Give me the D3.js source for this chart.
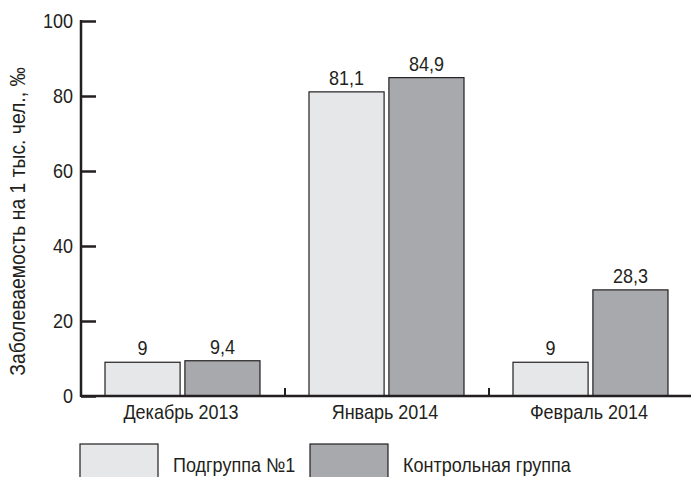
<!DOCTYPE html>
<html>
<head>
<meta charset="utf-8">
<script src="https://cdn.jsdelivr.net/npm/d3@7/dist/d3.min.js"></script>
<style>
  html, body { margin: 0; padding: 0; background: #fff; }
  svg { display: block; font-family: "Liberation Sans", Arial, sans-serif; }
</style>
</head>
<body>
<svg id="chart" width="691" height="477"></svg>
<script>
// Incidence per 1000 people, by month and group
const categories = ["Декабрь 2013", "Январь 2014", "Февраль 2014"];
const seriesNames = ["Подгруппа №1", "Контрольная группа"];
const subgroupValues = [9, 81.1, 9];
const controlValues = [9.4, 84.9, 28.3];
const valueLabels = [["9", "81,1", "9"], ["9,4", "84,9", "28,3"]];
const yTicks = [0, 20, 40, 60, 80, 100];
const yLabel = "Заболеваемость на 1 тыс. чел., ‰";

const colors = ["#e6e7e9", "#a8a9ad"];
const ink = "#231f20";
const fs = 20;
const narrow = 0.9; // condensed typeface look

const svg = d3.select("#chart");
const plotLeft = 81, plotRight = 693, plotTop = 21, plotBottom = 396;

const x = d3.scaleBand().domain(categories).range([plotLeft, plotRight]).paddingInner(0).paddingOuter(0);
const xs = d3.scaleBand().domain([0, 1]).range([24, 24 + 155]).paddingInner(0.06);
const y = d3.scaleLinear().domain([0, 100]).range([plotBottom, plotTop]);

const series = [subgroupValues, controlValues];

// places condensed text at (tx, ty)
function label(parent, tx, ty, str, anchor, size, rotate) {
  return parent.append("text")
    .attr("transform", `translate(${tx},${ty})${rotate ? " rotate(" + rotate + ")" : ""} scale(${narrow},1)`)
    .attr("text-anchor", anchor)
    .attr("font-size", size)
    .attr("fill", ink)
    .text(str);
}

// bars
series.forEach((vals, si) => {
  const g = svg.append("g");
  g.selectAll("rect").data(categories).join("rect")
    .attr("x", c => x(c) + xs(si))
    .attr("y", (c, i) => y(vals[i]))
    .attr("width", xs.bandwidth())
    .attr("height", (c, i) => y(0) - y(vals[i]))
    .attr("fill", colors[si])
    .attr("stroke", ink)
    .attr("stroke-width", 1.2);
  categories.forEach((c, i) => {
    label(g, x(c) + xs(si) + xs.bandwidth() / 2, y(vals[i]) - 7, valueLabels[si][i], "middle", fs);
  });
});

// y axis with inward ticks
const yAxis = svg.append("g").attr("transform", `translate(${plotLeft},0)`)
  .call(d3.axisRight(y).tickValues(yTicks).tickSize(15).tickFormat(""));
yAxis.select(".domain").remove();
yAxis.selectAll("line").attr("stroke", ink).attr("stroke-width", 2.5);
svg.append("line").attr("x1", plotLeft).attr("x2", plotLeft).attr("y1", plotTop - 1).attr("y2", plotBottom + 1)
  .attr("stroke", ink).attr("stroke-width", 2.5);
const yLabels = svg.append("g");
yTicks.forEach(d => label(yLabels, plotLeft - 8, y(d) + 7, d, "end", fs));

// x baseline with group dividers
svg.append("line").attr("x1", plotLeft).attr("x2", 691).attr("y1", plotBottom).attr("y2", plotBottom)
  .attr("stroke", ink).attr("stroke-width", 2.5);
svg.append("g").selectAll("line").data(categories.slice(1)).join("line")
  .attr("x1", c => x(c)).attr("x2", c => x(c))
  .attr("y1", plotBottom).attr("y2", plotBottom - 8)
  .attr("stroke", ink).attr("stroke-width", 2);
const xLabels = svg.append("g");
categories.forEach(c => label(xLabels, x(c) + 100, plotBottom + 23, c, "middle", fs));

// y axis title
label(svg, 25, (plotTop + plotBottom) / 2 + 13, yLabel, "middle", 21.5, -90);

// legend
const legendX = [80, 310];
seriesNames.forEach((name, i) => {
  svg.append("rect").attr("x", legendX[i]).attr("y", 444).attr("width", 78).attr("height", 40)
    .attr("fill", colors[i]).attr("stroke", ink).attr("stroke-width", 1.2);
  label(svg, legendX[i] + 93, 472, name, "start", fs);
});
</script>
</body>
</html>
